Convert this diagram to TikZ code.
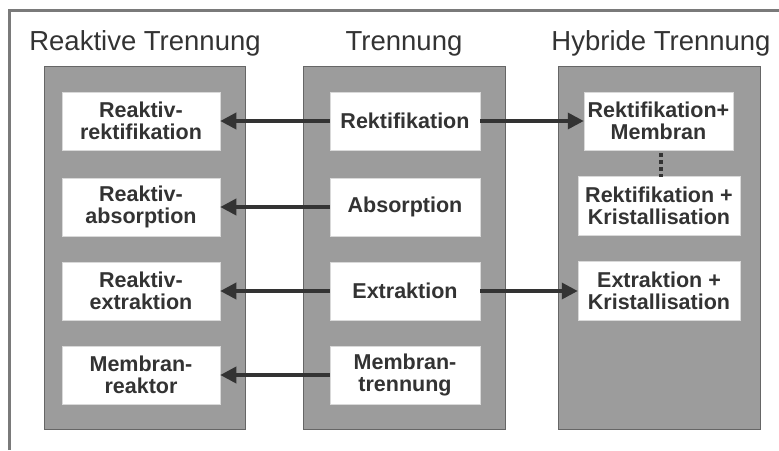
\documentclass[tikz,border=0pt]{standalone}
\usepackage{fontspec}
\setmainfont{Liberation Sans}
\usetikzlibrary{arrows.meta}
\definecolor{framegray}{HTML}{7A7A7A}
\definecolor{colgray}{HTML}{9C9C9C}
\definecolor{coledge}{HTML}{666666}
\definecolor{ink}{HTML}{333333}
\tikzset{
  heading/.style={font=\fontsize{27.5}{30}\selectfont, text=ink, anchor=base},
  column/.style={fill=colgray, draw=coledge, line width=0.8pt},
  item/.style={fill=white, draw=white!85!black, line width=0.5pt, inner sep=0pt,
    align=center, text=ink, font=\bfseries\fontsize{21.5}{22}\selectfont},
  flow/.style={draw=ink, line width=3.5pt, -{Triangle[length=16pt,width=16pt]}},
}
\begin{document}
\begin{tikzpicture}[x=1pt,y=-1pt]
\useasboundingbox (0,0) rectangle (779,450);
% outer frame: top and left edges only
\draw[framegray, line width=3pt] (9,450) -- (9,10) -- (779,10);

% column headings
\node[heading] (hleft) at (145,50) {Reaktive Trennung};
\node[heading] (hmid) at (404,50) {Trennung};
\node[heading] (hright) at (661,50) {Hybride Trennung};

% grey columns
\draw[column] (44,66) rectangle (245,429);
\draw[column] (303,66) rectangle (505,429);
\draw[column] (558,66) rectangle (760,429);

% left column
\node[item, minimum width=158pt, minimum height=58pt] (rr) at (141,121) {Reaktiv-\\rektifikation};
\node[item, minimum width=158pt, minimum height=58pt] (ra) at (141,207) {Reaktiv-\\absorption};
\node[item, minimum width=158pt, minimum height=58pt] (re) at (141,291) {Reaktiv-\\extraktion};
\node[item, minimum width=158pt, minimum height=58pt] (mr) at (141,375) {Membran-\\reaktor};

% middle column
\node[item, minimum width=150pt, minimum height=58pt] (rek) at (405,121) {Rektifikation};
\node[item, minimum width=150pt, minimum height=58pt] (abs) at (405,207) {Absorption};
\node[item, minimum width=150pt, minimum height=58pt] (ext) at (405,291) {Extraktion};
\node[item, minimum width=150pt, minimum height=58pt] (mt) at (405,375) {Membran-\\trennung};

% right column
\node[item, minimum width=149pt, minimum height=58pt] (rm) at (658.5,121) {Rektifikation+\\Membran};
\node[item, minimum width=162pt, minimum height=59pt] (rkr) at (659,205.5) {Rektifikation +\\Kristallisation};
\node[item, minimum width=162pt, minimum height=59pt] (ekr) at (659,290.5) {Extraktion +\\Kristallisation};

% dotted continuation between hybrid entries
\draw[ink, line width=4pt, dash pattern=on 4pt off 3pt] (rm.south -| 661,0) ++(0,3) -- ([yshift=-1pt]rkr.north -| 661,0);

% connectors
\draw[flow] (rek) -- (rr);
\draw[flow] (rek) -- (rm);
\draw[flow] (abs) -- (ra);
\draw[flow] (ext) -- (re);
\draw[flow] (ext) -- (ekr.west |- ext);
\draw[flow] (mt) -- (mr);
\end{tikzpicture}
\end{document}
